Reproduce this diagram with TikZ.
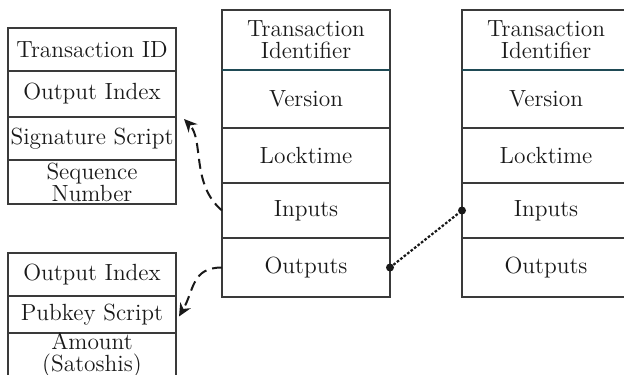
\documentclass[tikz,border=0pt]{standalone}
\usetikzlibrary{positioning,arrows.meta}
\definecolor{boxline}{HTML}{3A3A3A}
\definecolor{headline}{HTML}{1F4A55}
\begin{document}
\begin{tikzpicture}[
    x=0.5pt, y=-0.5pt,
    node distance=0pt,
    field/.style={rectangle, draw=boxline, line width=0.65pt, align=center, inner sep=0pt, outer sep=0pt,
        minimum width=84pt, font=\fontsize{11.7}{11}\selectfont, text=black!90},
    arrow/.style={-{Stealth[length=6.5pt,width=6pt]}, line width=1pt, dash pattern=on 5pt off 3pt, black!90},
    link/.style={line width=1.1pt, dash pattern=on 1.3pt off 0.9pt, black!90},
    dot/.style={circle, fill=black!90, inner sep=0pt, minimum size=4pt}
]
\useasboundingbox (0,0) rectangle (624,374);

% input fields
\node (in-txid) [field, minimum height=21.5pt, anchor=north west] at (8,28) {Transaction ID};
\node (in-idx) [field, minimum height=23pt, below=of in-txid] {Output Index};
\node (in-sig) [field, minimum height=21.5pt, below=of in-idx] {Signature Script};
\node (in-seq) [field, minimum height=22pt, below=of in-sig] {Sequence\\Number};

% output fields
\node (out-idx) [field, minimum height=21.5pt, anchor=north west] at (8,253) {Output Index};
\node (out-pk) [field, minimum height=18.5pt, below=of out-idx] {Pubkey Script};
\node (out-amt) [field, minimum height=21.5pt, below=of out-pk] {Amount\\(Satoshis)};

% first transaction
\node (tx1-id) [field, minimum height=30pt, anchor=north west] at (222,10) {Transaction\\Identifier};
\node (tx1-ver) [field, minimum height=29pt, below=of tx1-id] {Version};
\node (tx1-lock) [field, minimum height=27.5pt, below=of tx1-ver] {Locktime};
\node (tx1-in) [field, minimum height=27.5pt, below=of tx1-lock] {Inputs};
\node (tx1-out) [field, minimum height=29.5pt, below=of tx1-in] {Outputs};

% second transaction
\node (tx2-id) [field, minimum height=30pt, anchor=north west] at (462,10) {Transaction\\Identifier};
\node (tx2-ver) [field, minimum height=29pt, below=of tx2-id] {Version};
\node (tx2-lock) [field, minimum height=27.5pt, below=of tx2-ver] {Locktime};
\node (tx2-in) [field, minimum height=27.5pt, below=of tx2-lock] {Inputs};
\node (tx2-out) [field, minimum height=29.5pt, below=of tx2-in] {Outputs};

\draw[headline, line width=0.65pt] (tx1-id.south west) -- (tx1-id.south east);
\draw[headline, line width=0.65pt] (tx2-id.south west) -- (tx2-id.south east);

% connectors
\coordinate (sig-tip) at ([xshift=4pt,yshift=-1pt]in-sig.north east);
\coordinate (pk-tip) at ([xshift=1.5pt,yshift=-1pt]out-pk.east);
\draw[arrow] (tx1-in.west) to[out=140, in=-46, out looseness=1.05, in looseness=0.75] (sig-tip);
\draw[arrow] (tx1-out.west) to[out=180, in=60, looseness=1.2] (pk-tip);

\node (out-dot) [dot] at (tx1-out.east) {};
\node (in-dot) [dot] at (tx2-in.west) {};
\draw[link] (out-dot) -- (in-dot);

\end{tikzpicture}
\end{document}
